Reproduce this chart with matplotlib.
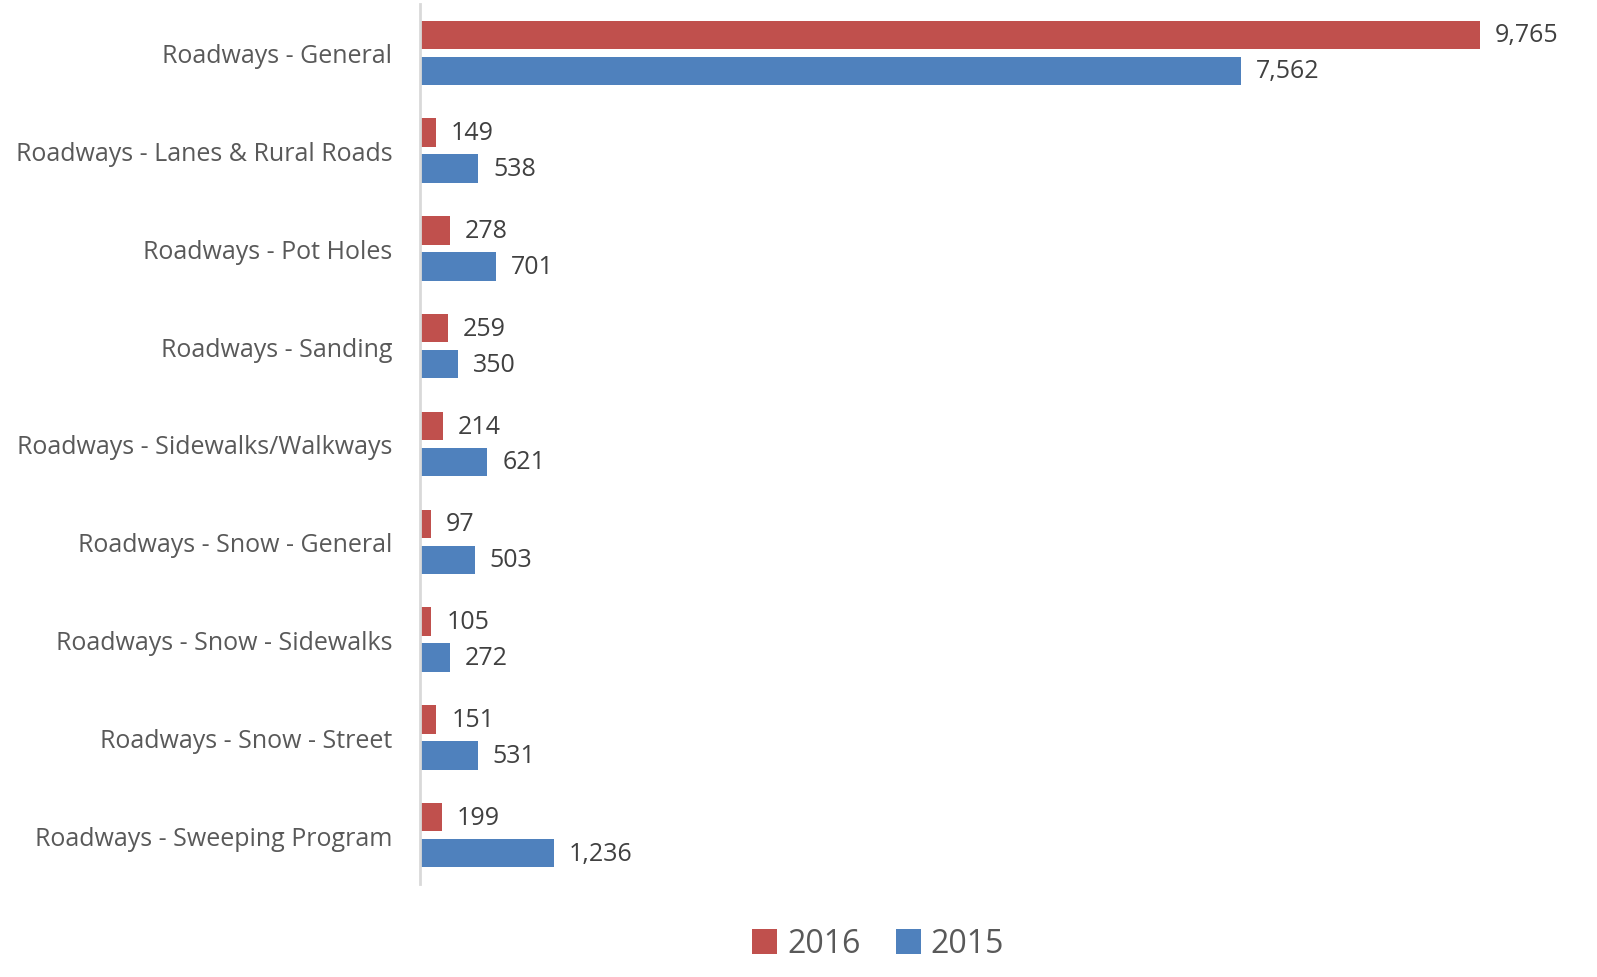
import matplotlib.pyplot as plt
import numpy as np

plt.rcParams['font.family'] = ['Open Sans', 'DejaVu Sans']

categories = [
    'Roadways - General',
    'Roadways - Lanes & Rural Roads',
    'Roadways - Pot Holes',
    'Roadways - Sanding',
    'Roadways - Sidewalks/Walkways',
    'Roadways - Snow - General',
    'Roadways - Snow - Sidewalks',
    'Roadways - Snow - Street',
    'Roadways - Sweeping Program',
]
values_2016 = [9765, 149, 278, 259, 214, 97, 105, 151, 199]
values_2015 = [7562, 538, 701, 350, 621, 503, 272, 531, 1236]

RED = '#C0504D'
BLUE = '#4F81BD'
TEXT = '#595959'
LABEL = '#404040'

fig = plt.figure(figsize=(15.97, 9.78), dpi=100)
ax = fig.add_axes([420 / 1597, 1 - 885 / 978, 1172 / 1597, 880 / 978])

y = np.arange(len(categories))
h = 0.29
off = 0.184

bars16 = ax.barh(y - off, values_2016, height=h, color=RED, label='2016')
bars15 = ax.barh(y + off, values_2015, height=h, color=BLUE, label='2015')

# 値ラベル
for bars in (bars16, bars15):
    for b in bars:
        w = b.get_width()
        ax.annotate(f'{w:,}', (w, b.get_y() + b.get_height() / 2),
                    xytext=(15, 0), textcoords='offset pixels',
                    va='center', ha='left', fontsize=18, color=LABEL)

ax.set_xlim(0, 10800)
ax.set_ylim(len(categories) - 0.5, -0.5)
ax.set_yticks(y)
ax.set_yticklabels(categories, fontsize=18, color=TEXT)
ax.tick_params(axis='y', length=0, pad=20)
ax.set_xticks([])

for side in ('top', 'right', 'bottom'):
    ax.spines[side].set_visible(False)
ax.spines['left'].set_color('#d9d9d9')
ax.spines['left'].set_linewidth(2)

fig.legend(handles=[bars16, bars15], labels=['2016', '2015'],
           loc='center', bbox_to_anchor=(878 / 1597, 1 - 945 / 978),
           ncol=2, frameon=False, fontsize=23, handlelength=0.8,
           handleheight=0.8, handletextpad=0.3, columnspacing=1.1,
           labelcolor=TEXT)

fig.savefig('out.png', dpi=100)
